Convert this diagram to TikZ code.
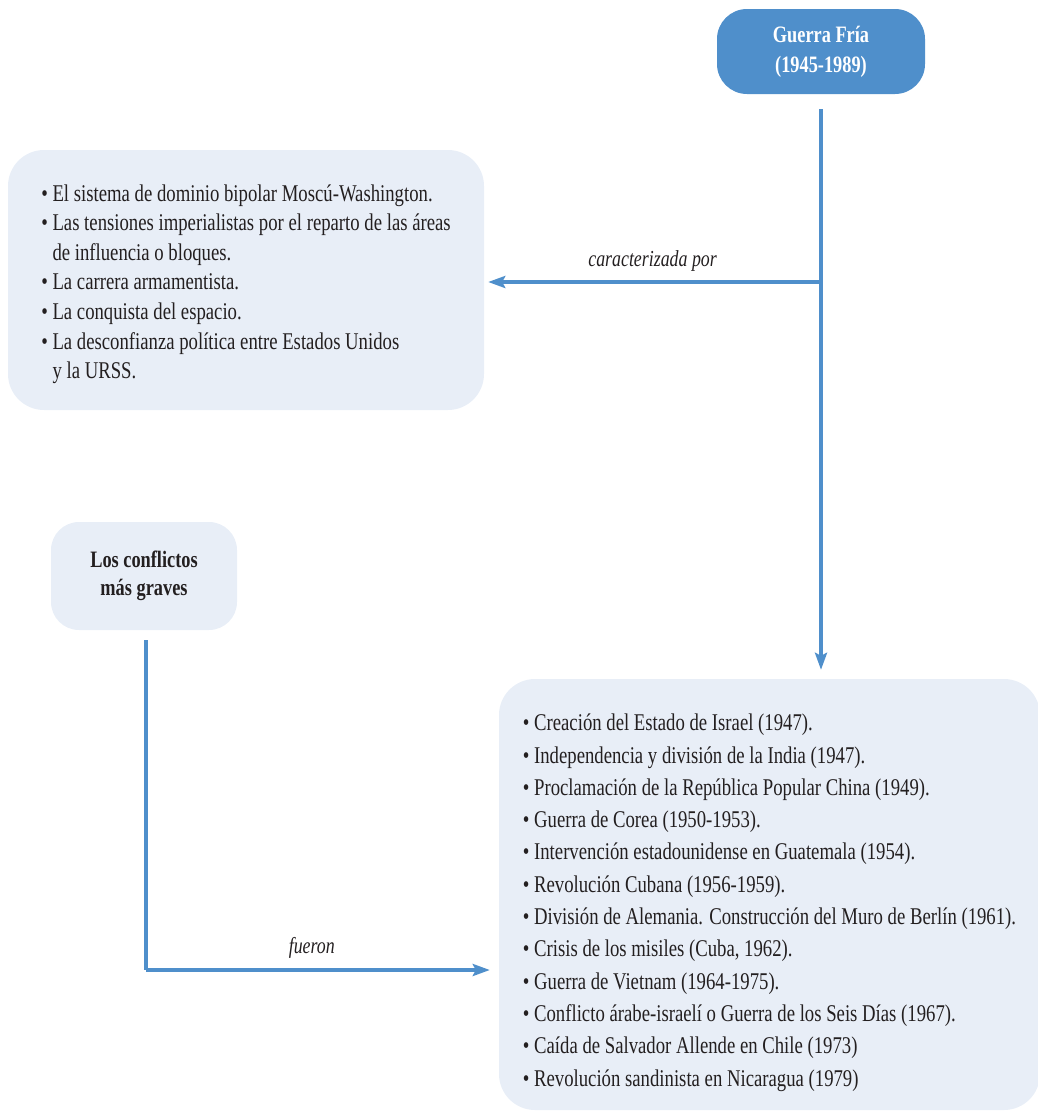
\documentclass[tikz,border=0pt]{standalone}
\usepackage{fontspec}
\setmainfont{Liberation Serif}[FakeStretch=0.78]
\usetikzlibrary{arrows.meta}
\definecolor{cfblue}{HTML}{4F8FCB}
\definecolor{cfpale}{HTML}{E8EEF7}
\definecolor{cftext}{HTML}{231F20}
\tikzset{
  conn/.style={draw=cfblue, line width=4pt, -{Stealth[length=17pt,width=12pt,inset=3pt]}},
  conn0/.style={draw=cfblue, line width=4pt},
  titlebox/.style={fill=cfblue, rounded corners=30pt, text=white, align=center,
    font=\fontsize{23.5}{30}\selectfont\bfseries},
  palebox/.style={fill=cfpale, rounded corners=36pt, text=cftext},
  lbl/.style={text=cftext, font=\fontsize{22.9}{25}\selectfont\itshape},
}
\newcommand{\bul}{\textbullet\ }
\newcommand{\bulind}{\hphantom{\textbullet}\ }
\begin{document}
\begin{tikzpicture}[x=1pt,y=-1pt]
\useasboundingbox (0,0) rectangle (1037,1111);
\node[titlebox, minimum width=208pt, minimum height=85pt] (title) at (821,51.5) {Guerra Fría\\(1945-1989)};
\node[palebox, minimum width=476pt, minimum height=260pt, align=left,
  font=\fontsize{24}{29.6}\selectfont] (chars) at (246,280)
  {\rule{0pt}{25pt}\bul El sistema de dominio bipolar Moscú-Washington.\\
   \bul Las tensiones imperialistas por el reparto de las áreas\\
   \bulind de influencia o bloques.\\
   \bul La carrera armamentista.\\
   \bul La conquista del espacio.\\
   \bul La desconfianza política entre Estados Unidos\\
   \bulind y la URSS.};
\node[palebox, rounded corners=28pt, minimum width=186pt, minimum height=108pt, align=center,
  font=\fontsize{23.5}{28}\selectfont\bfseries] (conf) at (144,576) {Los conflictos\\más graves};
\node[palebox, minimum width=541pt, minimum height=431pt, align=left,
  font=\fontsize{24}{32.3}\selectfont] (list) at (769.5,894.5)
  {\rule{0pt}{33pt}\bul Creación del Estado de Israel (1947).\\
   \bul Independencia y división de la India (1947).\\
   \bul Proclamación de la República Popular China (1949).\\
   \bul Guerra de Corea (1950-1953).\\
   \bul Intervención estadounidense en Guatemala (1954).\\
   \bul Revolución Cubana (1956-1959).\\
   \bul División de Alemania. Construcción del Muro de Berlín (1961).\\
   \bul Crisis de los misiles (Cuba, 1962).\\
   \bul Guerra de Vietnam (1964-1975).\\
   \bul Conflicto árabe-israelí o Guerra de los Seis Días (1967).\\
   \bul Caída de Salvador Allende en Chile (1973)\\
   \bul Revolución sandinista en Nicaragua (1979)};
\coordinate (jn) at (821,282);
\coordinate (kn) at (146,970);
\draw[conn, shorten <=15pt, shorten >=9pt] (title.south) -- (title.south |- list.north);
\draw[conn, shorten >=4pt] (jn) -- (jn -| chars.east) node[lbl, midway, above=5pt] {caracterizada por};
\draw[conn0, shorten <=10pt] (conf.south -| kn) -- (kn);
\draw[conn, shorten >=9pt] (kn) -- (kn -| list.west) node[lbl, pos=0.47, above=6pt] {fueron};
\end{tikzpicture}
\end{document}
